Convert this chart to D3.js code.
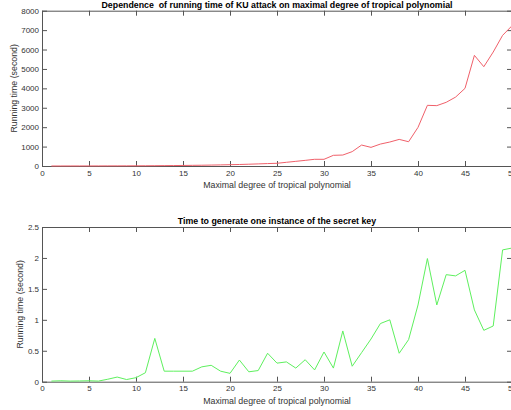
<!DOCTYPE html>
<meta charset="utf-8">
<style>

body {
  margin: 0;
  background: #fff;
  font-family: "Liberation Sans", Arial, Helvetica, sans-serif;
}

.axis path, .axis line {
  stroke: #555;
}

.axis text {
  font-size: 8px;
  fill: #333;
}

.title {
  font-size: 8.8px;
  font-weight: 700;
  fill: #000;
  white-space: pre;
}

.label {
  font-size: 8.8px;
  fill: #333;
}

</style>
<svg id="chart"></svg>
<script src="https://d3js.org/d3.v7.min.js"></script>
<script>

// DATA

  let degrees = d3.range(1, 51);

  let attackTime = [1, 1, 2, 2, 3, 4, 5, 6, 8, 10,
    12, 15, 19, 23, 28, 34, 40, 48, 57, 67,
    78, 92, 108, 125, 140, 190, 240, 290, 345, 345,
    550, 565, 740, 1080, 960, 1130, 1235, 1370, 1250, 1990,
    3125, 3110, 3280, 3550, 4000, 5700, 5115, 5870, 6730, 7225];

  let keyTime = [0.01, 0.015, 0.01, 0.012, 0.015, 0.01, 0.04, 0.075, 0.035, 0.065,
    0.145, 0.70, 0.17, 0.17, 0.17, 0.17, 0.24, 0.265, 0.17, 0.135,
    0.35, 0.16, 0.18, 0.46, 0.30, 0.32, 0.22, 0.355, 0.19, 0.48,
    0.22, 0.82, 0.25, 0.47, 0.69, 0.94, 1.0, 0.46, 0.68, 1.24,
    1.99, 1.24, 1.73, 1.71, 1.80, 1.16, 0.83, 0.90, 2.13, 2.16];

  let xTicks = [0, 5, 10, 15, 20, 25, 30, 35, 40, 45, 50];
  let attackTicks = [0, 1000, 2000, 3000, 4000, 5000, 6000, 7000, 8000];
  let keyTicks = [0, 0.5, 1, 1.5, 2, 2.5];

  let svg = d3.select("#chart")
  .attr("width", 511)
  .attr("height", 410);

  let left = 42, right = 512;

  let x = d3.scaleLinear()
  .domain([0, 50])
  .range([left, right]);

  function panel(cfg) {
    let y = d3.scaleLinear()
    .domain(cfg.domain)
    .range([cfg.bottom, cfg.top]);

    let g = svg.append("g");

    // box with inward ticks on all sides
    g.append("g")
    .attr("class", "axis")
    .attr("transform", "translate(0," + cfg.bottom + ")")
    .call(d3.axisBottom(x).tickValues(xTicks).tickSizeInner(-5).tickSizeOuter(0).tickPadding(4));

    g.append("g")
    .attr("class", "axis")
    .attr("transform", "translate(0," + cfg.top + ")")
    .call(d3.axisTop(x).tickValues(xTicks).tickSizeInner(-5).tickSizeOuter(0).tickFormat(""));

    g.append("g")
    .attr("class", "axis")
    .attr("transform", "translate(" + left + ",0)")
    .call(d3.axisLeft(y).tickValues(cfg.ticks).tickSizeInner(-5).tickSizeOuter(0).tickPadding(3).tickFormat(d3.format("")));

    g.append("g")
    .attr("class", "axis")
    .attr("transform", "translate(" + right + ",0)")
    .call(d3.axisRight(y).tickValues(cfg.ticks).tickSizeInner(-5).tickSizeOuter(0).tickFormat(""));

    let line = d3.line()
    .x((d, i) => x(degrees[i]))
    .y(d => y(d));

    g.append("path")
    .datum(cfg.values)
    .attr("fill", "none")
    .attr("stroke", cfg.color)
    .attr("stroke-width", 1)
    .attr("d", line);

    g.append("text")
    .attr("class", "title")
    .attr("x", (left + right) / 2)
    .attr("y", cfg.top - 3)
    .attr("text-anchor", "middle")
    .text(cfg.title);

    g.append("text")
    .attr("class", "label")
    .attr("x", (left + right) / 2)
    .attr("y", cfg.bottom + 22)
    .attr("text-anchor", "middle")
    .text("Maximal degree of tropical polynomial");

    g.append("text")
    .attr("class", "label")
    .attr("transform", "translate(" + cfg.labelX + "," + (cfg.top + cfg.bottom) / 2 + ") rotate(-90)")
    .attr("text-anchor", "middle")
    .text("Running time (second)");
  }

  panel({
    domain: [0, 8000], top: 10.7, bottom: 166, ticks: attackTicks,
    values: attackTime, color: "#f0606a", labelX: 17,
    title: "Dependence  of running time of KU attack on maximal degree of tropical polynomial"
  });

  panel({
    domain: [0, 2.5], top: 227, bottom: 381.7, ticks: keyTicks,
    values: keyTime, color: "#5ef05e", labelX: 23,
    title: "Time to generate one instance of the secret key"
  });

</script>
